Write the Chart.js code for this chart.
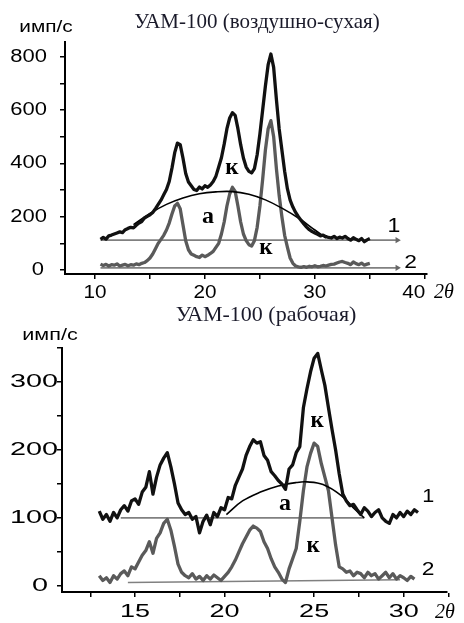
<!DOCTYPE html>
<html>
<head>
<meta charset="utf-8">
<script src="https://cdn.jsdelivr.net/npm/chart.js@4.4.1/dist/chart.umd.min.js"></script>
<style>
  html, body { margin: 0; padding: 0; background: #fff; }
  body { width: 464px; height: 623px; position: relative; overflow: hidden; }
  canvas { position: absolute; left: 0; }
  #c1 { top: 0; }
  #c2 { top: 300px; }
</style>
</head>
<body>
<canvas id="c1" width="464" height="310"></canvas>
<canvas id="c2" width="464" height="323"></canvas>
<script>
// ===== Data: top panel (УАМ-100, воздушно-сухая) =====
const topX = [10.5,10.75,11,11.25,11.5,11.75,12,12.25,12.5,12.75,13,13.25,13.5,13.75,14,14.25,14.5,14.75,15,15.25,15.5,15.75,16,16.25,16.5,16.75,17,17.25,17.5,17.75,18,18.25,18.5,18.75,19,19.25,19.5,19.75,20,20.25,20.5,20.75,21,21.25,21.5,21.75,22,22.25,22.5,22.75,23,23.25,23.5,23.75,24,24.25,24.5,24.75,25,25.25,25.5,25.75,26,26.25,26.5,26.75,27,27.25,27.5,27.75,28,28.25,28.5,28.75,29,29.25,29.5,29.75,30,30.25,30.5,30.75,31,31.25,31.5,31.75,32,32.25,32.5,32.75,33,33.25,33.5,33.75,34,34.25,34.5,34.75,35];
const topCurve1 = [115,122,116,128,131,135,139,143,140,151,156,160,158,168,176,182,195,201,207,216,230,246,262,282,302,332,382,440,476,470,420,362,330,316,302,298,311,304,316,310,319,332,352,386,421,472,530,570,590,580,530,470,420,386,370,364,380,432,510,600,690,770,810,760,640,530,450,370,305,262,236,216,200,186,173,161,151,144,139,134,128,131,125,122,120,126,118,123,120,126,118,112,121,115,110,118,106,113,118];
const topCurve2 = [22,17,21,15,20,18,23,15,18,21,16,20,18,23,20,25,28,35,45,60,80,100,115,130,150,176,210,240,250,230,170,110,76,60,55,50,47,56,50,55,62,70,85,100,135,180,240,285,310,295,240,180,135,110,95,90,110,160,240,340,450,530,560,500,380,280,200,130,86,45,25,15,12,10,13,10,14,12,16,12,14,17,15,18,21,22,26,30,32,28,25,20,30,24,20,26,18,22,25];
const topHaloX = [13.5,15,16.5,18,19.5,21,22.5,24,25.5,27,28.5,30,31];
const topHalo = [170,212,246,270,286,293,294,284,263,232,195,150,120];
const topBase1X = [10.5, 37.5];
const topBase1 = [112, 112];
const topBase2X = [10.5, 37.5];
const topBase2 = [8, 8];
const topYTicks = [0,100,200,300,400,500,600,700,800];
const topYLabels = [0,200,400,600,800];
const topXTicks = [10,15,20,25,30,35,40];
const topXLabels = [10,20,30,40];

// ===== Data: bottom panel (УАМ-100, рабочая) =====
const botX = [13,13.2,13.4,13.6,13.8,14,14.2,14.4,14.6,14.8,15,15.2,15.4,15.6,15.8,16,16.2,16.4,16.6,16.8,17,17.2,17.4,17.6,17.8,18,18.2,18.4,18.6,18.8,19,19.2,19.4,19.6,19.8,20,20.2,20.4,20.6,20.8,21,21.2,21.4,21.6,21.8,22,22.2,22.4,22.6,22.8,23,23.2,23.4,23.6,23.8,24,24.2,24.4,24.6,24.8,25,25.2,25.4,25.6,25.8,26,26.2,26.4,26.6,26.8,27,27.2,27.4,27.6,27.8,28,28.2,28.4,28.6,28.8,29,29.2,29.4,29.6,29.8,30,30.2,30.4,30.6,30.8];
const botCurve1 = [110,98,105,95,108,100,112,118,110,125,128,120,138,145,168,135,160,178,188,196,175,150,122,112,105,108,98,102,78,95,104,90,108,102,115,112,130,128,148,160,172,192,205,215,210,212,192,185,168,162,155,150,142,172,178,196,205,262,290,315,335,342,318,295,262,230,200,165,135,125,118,120,112,105,115,110,102,108,112,100,95,92,105,100,108,102,110,105,112,108];
const botCurve2X = [13,13.2,13.4,13.6,13.8,14,14.2,14.4,14.6,14.8,15,15.2,15.4,15.6,15.8,16,16.2,16.4,16.6,16.8,17,17.2,17.4,17.6,17.8,18,18.2,18.4,18.6,18.8,19,19.2,19.4,19.6,19.8,20,20.2,20.4,20.6,20.8,21,21.2,21.4,21.6,21.8,22,22.2,22.4,22.6,22.8,23,23.2,23.4,23.6,23.8,24,24.2,24.4,24.6,24.8,25,25.2,25.4,25.6,25.8,26,26.2,26.4,26.6,26.8,27,27.2,27.4,27.6,27.8,28,28.2,28.4,28.6,28.8,29,29.2,29.4,29.6,29.8,30,30.2,30.4,30.6];
const botCurve2 = [15,8,12,5,15,10,18,22,15,28,25,35,45,52,65,48,70,78,92,98,82,58,32,20,15,12,18,10,14,8,15,10,16,12,8,14,20,28,38,50,62,72,82,88,85,80,65,55,40,28,20,10,5,25,40,55,95,140,175,195,210,205,180,160,140,100,60,28,25,20,22,15,20,18,12,20,15,18,10,15,20,12,18,10,15,12,8,14,10];
const botHaloX = [20.1,21,22,23,24,24.6,25.5,26.5,27.3,27.8];
const botHalo = [105,125,138,147,152,153,149,133,112,100];
const botBase1X = [14.2, 27.8];
const botBase1 = [100, 100];
const botBase2X = [14.6, 29.8];
const botBase2 = [5, 9];
const botYTicks = [0,50,100,150,200,250,300,350];
const botYLabels = [0,100,200,300];
const botXTicks = [12.5,15,17.5,20,22.5,25,27.5,30,32.5];
const botXLabels = [15,20,25,30];

// ===== helpers =====
const pts = (xs, ys) => xs.map((x, i) => ({ x: x, y: ys[i] }));

function stretchText(ctx, text, x, y, sx, align) {
  ctx.save();
  ctx.translate(x, y);
  ctx.scale(sx, 1);
  ctx.textAlign = align;
  ctx.textBaseline = 'middle';
  ctx.fillText(text, 0, 0);
  ctx.restore();
}

const textPlugin = {
  id: 'txt',
  afterDraw(chart, args, o) {
    const ctx = chart.ctx, xs = chart.scales.x, ys = chart.scales.y;
    ctx.fillStyle = '#000';
    ctx.font = o.tickFont;
    o.yLabels.forEach(v => {
      const dx = (o.yDx && o.yDx[v]) || 0;
      stretchText(ctx, String(v), o.yRight + dx, ys.getPixelForValue(v), o.ySx, 'right');
    });
    o.xLabels.forEach(v => {
      const dx = (o.xDx && o.xDx[v]) || 0;
      stretchText(ctx, String(v), xs.getPixelForValue(v) + dx, o.xLabelY, o.xSx, 'center');
    });
    o.texts.forEach(t => {
      ctx.font = t.font;
      ctx.fillStyle = t.color || '#000';
      const px = t.px != null ? t.px : xs.getPixelForValue(t.x);
      const py = t.py != null ? t.py : ys.getPixelForValue(t.y);
      stretchText(ctx, t.text, px, py, t.sx || 1, t.align || 'center');
    });
  }
};

function makeChart(id, cfg) {
  const lineDs = (data, color, width, order, extra) => Object.assign({
    data: data, borderColor: color, borderWidth: width, pointRadius: 0,
    tension: 0, fill: false, order: order
  }, extra || {});
  const arrow = { pointRadius: [0, 3.5], pointStyle: 'triangle', pointRotation: 90,
                  pointBackgroundColor: '#666', pointBorderColor: '#666', pointBorderWidth: 0 };
  return new Chart(document.getElementById(id), {
    type: 'line',
    data: {
      datasets: [
        lineDs(cfg.curve1, '#111', 3.3, 0, { borderJoinStyle: 'round' }),
        lineDs(cfg.halo, '#000', 1.6, 1, { tension: 0.4 }),
        lineDs(cfg.curve2, '#5a5a5a', 3.3, 2, { borderJoinStyle: 'round' }),
        lineDs(cfg.base1, '#808080', 1.6, 3, cfg.arrows ? arrow : {}),
        lineDs(cfg.base2, '#808080', 1.6, 4, cfg.arrows ? arrow : {})
      ]
    },
    options: {
      responsive: false, animation: false, devicePixelRatio: 1,
      layout: { padding: cfg.padding },
      plugins: { legend: { display: false }, tooltip: { enabled: false }, txt: cfg.txt },
      scales: {
        x: {
          type: 'linear', min: cfg.xMin, max: cfg.xMax,
          afterBuildTicks: s => { s.ticks = cfg.xTicks.map(v => ({ value: v })); },
          afterFit: s => { s.height = cfg.xHeight; },
          ticks: { callback: () => '', padding: 0 },
          grid: { drawOnChartArea: false, drawTicks: true, tickLength: 5, color: '#000', lineWidth: 1.5 },
          border: { color: '#000', width: 2 }
        },
        y: {
          type: 'linear', min: cfg.yMin, max: cfg.yMax,
          afterBuildTicks: s => { s.ticks = cfg.yTicks.map(v => ({ value: v })); },
          afterFit: s => { s.width = cfg.yWidth; },
          ticks: { callback: () => '', padding: 0 },
          grid: { drawOnChartArea: false, drawTicks: true, tickLength: 5, color: '#000', lineWidth: 1.5 },
          border: { color: '#000', width: 2 }
        }
      }
    },
    plugins: [textPlugin]
  });
}

const SANS = '"Liberation Sans", Arial, sans-serif';
const SERIF = '"Liberation Serif", "Times New Roman", serif';

makeChart('c1', {
  curve1: pts(topX, topCurve1), curve2: pts(topX, topCurve2), halo: pts(topHaloX, topHalo),
  base1: pts(topBase1X, topBase1), base2: pts(topBase2X, topBase2), arrows: true,
  xMin: 7.27, xMax: 40.2, yMin: -15, yMax: 855,
  xTicks: topXTicks, yTicks: topYTicks,
  padding: { top: 42, right: 37, left: 0, bottom: 0 }, xHeight: 36, yWidth: 65,
  txt: {
    tickFont: '18px ' + SANS,
    yLabels: topYLabels, yRight: 47, ySx: 1.22, yDx: { 0: -3 },
    xLabels: topXLabels, xLabelY: 293, xSx: 1.15, xDx: { 40: -11 },
    texts: [
      { text: 'УАМ-100 (воздушно-сухая)', px: 257, py: 22, font: '21px ' + SERIF, color: '#1a1a2a' },
      { text: 'имп/с', px: 46, py: 28, font: '16px ' + SANS, sx: 1.3 },
      { text: '2θ', px: 444, py: 293, font: 'italic 20px ' + SERIF },
      { text: '1', x: 37.2, y: 165, font: '21px ' + SANS, sx: 1.1 },
      { text: '2', x: 38.7, y: 26, font: '19px ' + SANS, sx: 1.2 },
      { text: 'а', x: 20.27, y: 199, font: 'bold 24px ' + SERIF },
      { text: 'к', x: 22.45, y: 381, font: 'bold 23px ' + SERIF },
      { text: 'к', x: 25.55, y: 83, font: 'bold 23px ' + SERIF }
    ]
  }
});

makeChart('c2', {
  curve1: pts(botX, botCurve1), curve2: pts(botCurve2X, botCurve2), halo: pts(botHaloX, botHalo),
  base1: pts(botBase1X, botBase1), base2: pts(botBase2X, botBase2), arrows: false,
  xMin: 10.92, xMax: 32.42, yMin: -9, yMax: 350,
  xTicks: botXTicks, yTicks: botYTicks,
  padding: { top: 48, right: 17, left: 0, bottom: 0 }, xHeight: 31, yWidth: 62,
  txt: {
    tickFont: '18px ' + SANS,
    yLabels: botYLabels, yRight: 58, ySx: 1.6, yDx: { 0: -10 },
    xLabels: botXLabels, xLabelY: 312.5, xSx: 1.5, xDx: {},
    texts: [
      { text: 'УАМ-100 (рабочая)', px: 266, py: 15, font: '22px ' + SERIF, color: '#1a1a2a' },
      { text: 'имп/с', px: 50, py: 36, font: '16px ' + SANS, sx: 1.35 },
      { text: '2θ', px: 445, py: 313, font: 'italic 20px ' + SERIF },
      { text: '1', x: 31.37, y: 131, font: '18px ' + SANS, sx: 1.2 },
      { text: '2', x: 31.37, y: 24, font: '19px ' + SANS, sx: 1.2 },
      { text: 'а', x: 23.38, y: 121, font: 'bold 24px ' + SERIF },
      { text: 'к', x: 25.17, y: 243, font: 'bold 23px ' + SERIF },
      { text: 'к', x: 24.94, y: 59, font: 'bold 23px ' + SERIF }
    ]
  }
});
</script>
</body>
</html>
